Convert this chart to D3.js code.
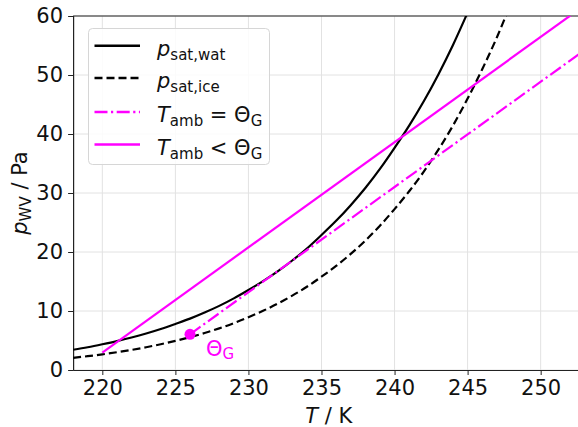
<!DOCTYPE html>
<html><head><meta charset="utf-8">
<script src="https://cdn.jsdelivr.net/npm/d3@7"></script>
<style>body{margin:0;background:#fff}svg{display:block;font-family:"DejaVu Sans",sans-serif}</style>
</head><body>
<svg id="c" width="578" height="427"></svg>
<script>
// Data
const temps = [218,219,220,221,222,223,224,225,226,227,228,229,230,231,232,233,234,235,236,237,238,239,240,241,242,243,244,245,246,247,248];
const pWater = [3.43,3.86,4.36,4.90,5.51,6.19,6.95,7.81,8.71,9.74,10.87,12.14,13.56,15.06,16.71,18.56,20.59,22.88,25.28,27.94,30.85,34.09,37.66,41.43,45.55,50.10,55.09,60.56,66.2,72.3,79.0];
const pIce = [2.06,2.34,2.65,3.01,3.41,3.86,4.37,4.94,5.57,6.27,7.06,7.95,8.95,10.03,11.25,12.60,14.11,15.81,17.64,19.67,21.93,24.46,27.27,30.29,33.62,37.34,41.44,46.0,50.97,56.36,62.37];
const ambEqualT = [226, 253];
const ambEqualP = [6.05, 54.2];
const ambLessT = [220, 253];
const ambLessP = [2.95, 61.8];
const thetaG = {T: 226, p: 6.05};
const xTicks = [220,225,230,235,240,245,250];
const yTicks = [0,10,20,30,40,50,60];

const svg = d3.select("#c");
const x = d3.scaleLinear().domain([218,253]).range([73.1,584.5]);
const y = d3.scaleLinear().domain([0,60]).range([370,16]);
const FS = 21;

svg.append("defs").append("clipPath").attr("id","clip")
  .append("rect").attr("x",x(218)).attr("y",y(60)).attr("width",x(253)-x(218)).attr("height",y(0)-y(60));

// grid
const grid = svg.append("g");
grid.selectAll(".gx").data(xTicks).join("line")
  .attr("x1",d=>x(d)).attr("x2",d=>x(d)).attr("y1",y(0)).attr("y2",y(60))
  .attr("stroke","#e2e2e2").attr("stroke-width",1);
grid.selectAll(".gy").data(yTicks).join("line")
  .attr("x1",x(218)).attr("x2",x(253)).attr("y1",d=>y(d)).attr("y2",d=>y(d))
  .attr("stroke","#e2e2e2").attr("stroke-width",1);

// axes
const xAxis = svg.append("g").attr("transform",`translate(0,${y(0)})`)
  .call(d3.axisBottom(x).tickValues(xTicks).tickSize(5).tickPadding(5));
const yAxis = svg.append("g").attr("transform",`translate(${x(218)},0)`)
  .call(d3.axisLeft(y).tickValues(yTicks).tickSize(5).tickPadding(5));
[xAxis,yAxis].forEach(a=>{
  a.selectAll("text").attr("font-size",FS).attr("font-family","DejaVu Sans").attr("fill","#111");
  a.selectAll("line").attr("stroke","#222");
  a.select(".domain").attr("stroke","#222").attr("stroke-width",1.2);
});
xAxis.select(".domain").attr("d",`M${x(218)},0.5H${x(253)}`);
yAxis.select(".domain").attr("d",`M0.5,${y(0)}V${y(60)}`);
svg.append("line").attr("x1",x(218)).attr("x2",x(253)).attr("y1",y(60)).attr("y2",y(60))
  .attr("stroke","#222").attr("stroke-width",1.2);

// lines
const plot = svg.append("g").attr("clip-path","url(#clip)");
const line = d3.line().x(d=>x(d[0])).y(d=>y(d[1])).curve(d3.curveMonotoneX);
plot.append("path").datum(temps.map((t,i)=>[t,pWater[i]])).attr("d",line)
  .attr("fill","none").attr("stroke","#000").attr("stroke-width",2.2);
plot.append("path").datum(temps.map((t,i)=>[t,pIce[i]])).attr("d",line)
  .attr("fill","none").attr("stroke","#000").attr("stroke-width",2.2).attr("stroke-dasharray","8,4");
plot.append("path").datum(ambLessT.map((t,i)=>[t,ambLessP[i]])).attr("d",line)
  .attr("fill","none").attr("stroke","#ff00ff").attr("stroke-width",2.2);
plot.append("path").datum(ambEqualT.map((t,i)=>[t,ambEqualP[i]])).attr("d",line)
  .attr("fill","none").attr("stroke","#ff00ff").attr("stroke-width",2.2).attr("stroke-dasharray","13,3.5,2.2,3.5");
plot.append("circle").attr("cx",x(thetaG.T)).attr("cy",y(thetaG.p)).attr("r",5.5).attr("fill","#ff00ff");

// theta label
const tl = svg.append("text").attr("x",x(thetaG.T)+16).attr("y",y(thetaG.p)+22)
  .attr("font-size",FS).attr("fill","#ff00ff");
tl.append("tspan").text("Θ");
tl.append("tspan").attr("font-size",15).attr("dy",3).text("G");

// axis labels
const xl = svg.append("text").attr("x",(x(218)+x(253))/2).attr("y",423).attr("text-anchor","middle").attr("font-size",FS).attr("fill","#111");
xl.append("tspan").attr("font-style","italic").text("T");
xl.append("tspan").text(" / K");
const yl = svg.append("text").attr("transform",`translate(27,${(y(0)+y(60))/2}) rotate(-90)`).attr("text-anchor","middle").attr("font-size",FS).attr("fill","#111");
yl.append("tspan").attr("font-style","italic").text("p");
yl.append("tspan").attr("font-size",15).attr("dy",4).text("WV");
yl.append("tspan").attr("dy",-4).text(" / Pa");

// legend
const lg = svg.append("g");
lg.append("rect").attr("x",88.5).attr("y",28.5).attr("width",181).attr("height",136).attr("rx",4)
  .attr("fill","#fff").attr("fill-opacity",0.85).attr("stroke","#d6d6d6").attr("stroke-width",1);
const entries = [
  {main:"p", sub:"sat,wat", rest:"", color:"#000", dash:null},
  {main:"p", sub:"sat,ice", rest:"", color:"#000", dash:"8,4"},
  {main:"T", sub:"amb", rest:" = Θ", sub2:"G", color:"#ff00ff", dash:"13,3.5,2.2,3.5"},
  {main:"T", sub:"amb", rest:" < Θ", sub2:"G", color:"#ff00ff", dash:null}
];
const rowY = [45.7, 78, 112, 144.5];
entries.forEach((e,i)=>{
  const yy = rowY[i];
  const l = lg.append("line").attr("x1",94.5).attr("x2",140).attr("y1",yy).attr("y2",yy)
    .attr("stroke",e.color).attr("stroke-width",2.4);
  if(e.dash) l.attr("stroke-dasharray",e.dash);
  const t = lg.append("text").attr("x",157).attr("y",yy+10).attr("font-size",FS).attr("fill","#111");
  t.append("tspan").attr("font-style","italic").text(e.main);
  t.append("tspan").attr("font-size",15).attr("dy",4).text(e.sub);
  if(e.rest){
    t.append("tspan").attr("dy",-4).text(e.rest);
    t.append("tspan").attr("font-size",15).attr("dy",4).text(e.sub2);
  }
});
</script>
</body></html>
